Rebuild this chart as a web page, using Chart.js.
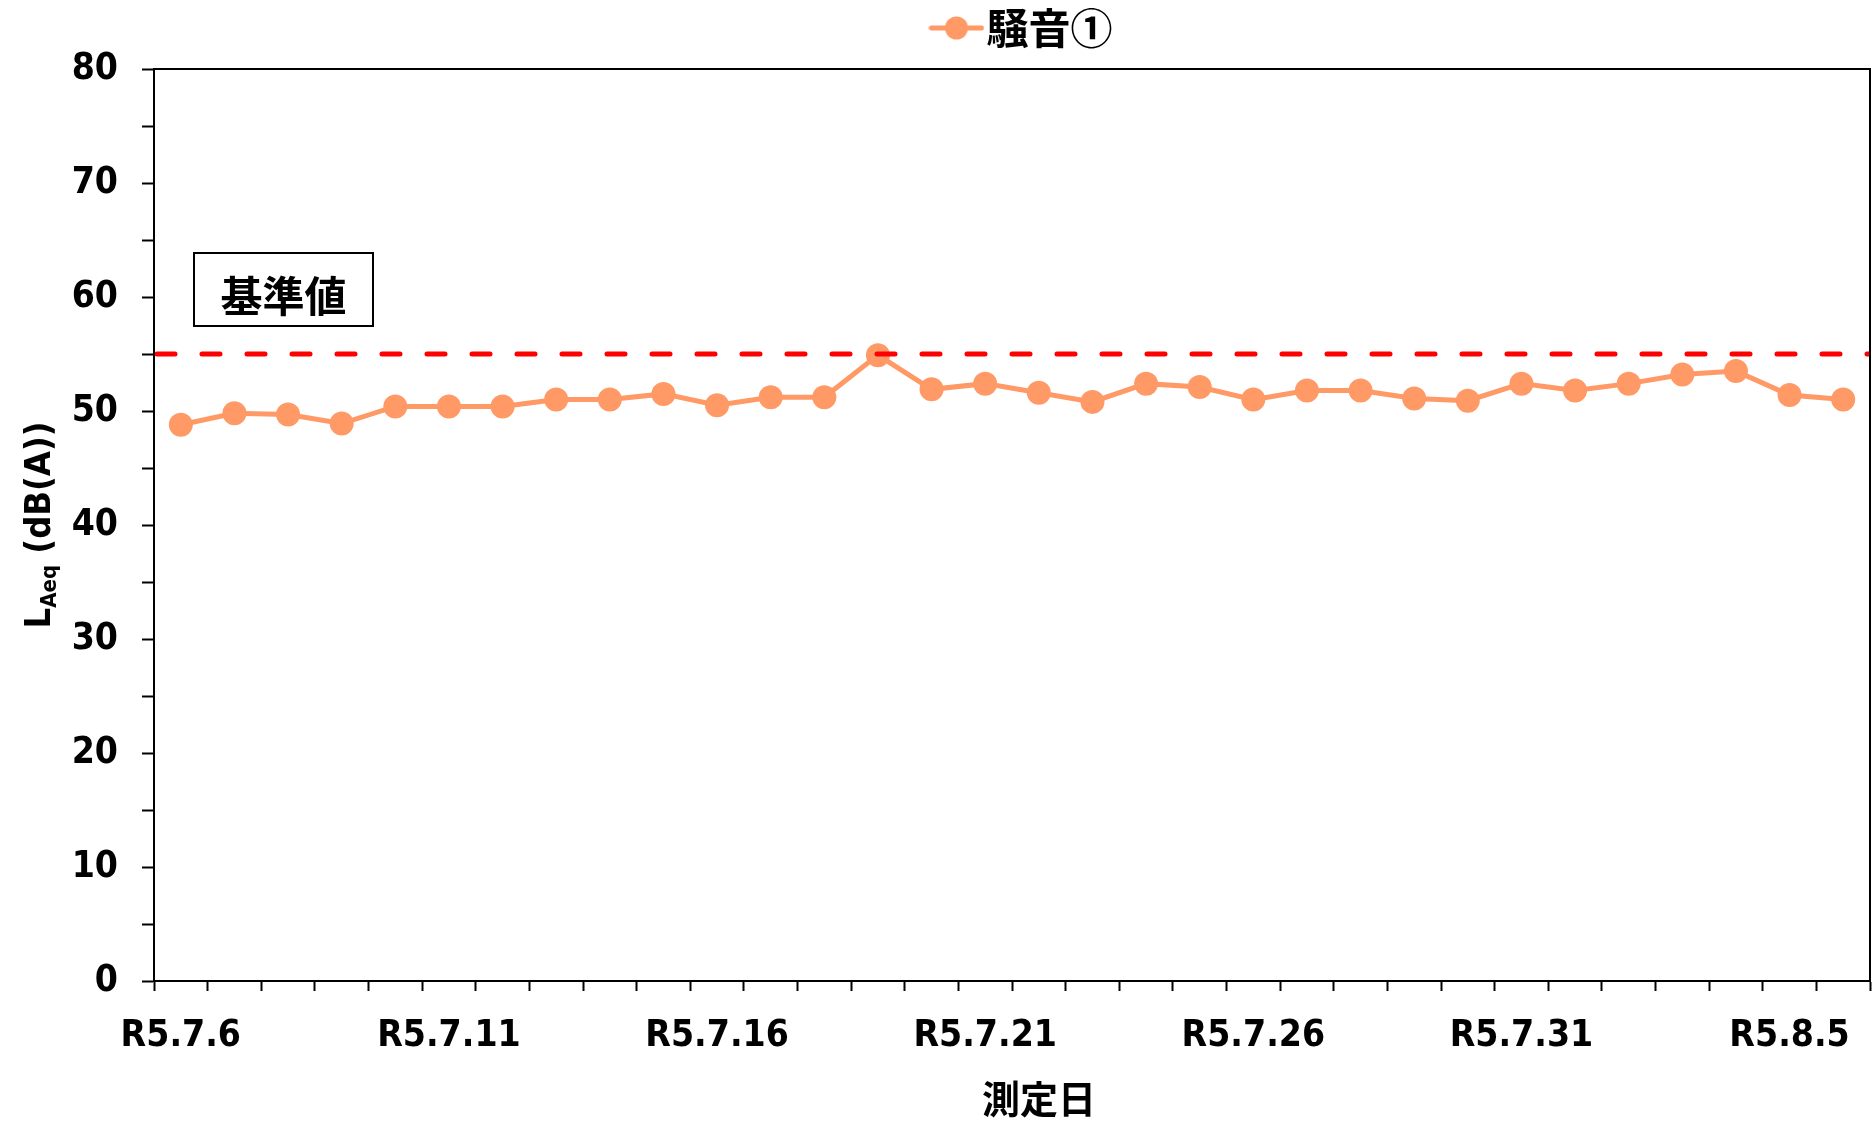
<!DOCTYPE html>
<html>
<head>
<meta charset="utf-8">
<script src="https://cdn.jsdelivr.net/npm/chart.js@4"></script>
<style>
  html, body { margin: 0; padding: 0; background: #fff; }
  #wrap { width: 1873px; height: 1122px; }
</style>
</head>
<body>
<div id="wrap"><canvas id="myChart" width="1873" height="1122"></canvas></div>
<script>
// measurement days (R5 = Reiwa 5)
const dates = [
  'R5.7.6', 'R5.7.7', 'R5.7.8', 'R5.7.9', 'R5.7.10', 'R5.7.11', 'R5.7.12', 'R5.7.13',
  'R5.7.14', 'R5.7.15', 'R5.7.16', 'R5.7.17', 'R5.7.18', 'R5.7.19', 'R5.7.20', 'R5.7.21',
  'R5.7.22', 'R5.7.23', 'R5.7.24', 'R5.7.25', 'R5.7.26', 'R5.7.27', 'R5.7.28', 'R5.7.29',
  'R5.7.30', 'R5.7.31', 'R5.8.1', 'R5.8.2', 'R5.8.3', 'R5.8.4', 'R5.8.5', 'R5.8.6'
];
const noise1 = [
  48.8, 49.8, 49.7, 48.9, 50.4, 50.4, 50.4, 51.0,
  51.0, 51.5, 50.5, 51.2, 51.2, 54.9, 51.9, 52.4,
  51.6, 50.8, 52.4, 52.1, 51.0, 51.8, 51.8, 51.1,
  50.9, 52.4, 51.8, 52.4, 53.2, 53.5, 51.4, 51.0
];
const shownDates = ['R5.7.6', 'R5.7.11', 'R5.7.16', 'R5.7.21', 'R5.7.26', 'R5.7.31', 'R5.8.5'];
const yLabels = [0, 10, 20, 30, 40, 50, 60, 70, 80];
const seriesName = '騒音①';
const limitValue = 55;
const limitText = '基準値';
const xTitle = '測定日';

const numFont = '"DejaVu Sans Condensed", "DejaVu Sans", sans-serif';
const jpFont = '"Noto Sans CJK JP", sans-serif';
const orange = '#ff9966';

// legend marker: line with a dot on it
const legendIcon = document.createElement('canvas');
legendIcon.width = 56;
legendIcon.height = 26;
let ic = legendIcon.getContext('2d');
ic.strokeStyle = orange;
ic.lineWidth = 5;
ic.lineCap = 'round';
ic.beginPath();
ic.moveTo(3, 13);
ic.lineTo(53, 13);
ic.stroke();
ic.fillStyle = orange;
ic.beginPath();
ic.arc(28, 13, 11.5, 0, Math.PI * 2);
ic.fill();

const extras = {
  id: 'extras',
  beforeLayout(chart) {
    // a bit more room under the legend, and nudge it like the original
    let lg = chart.legend;
    if (lg && !lg._patched) {
      let fit = lg.fit;
      lg.fit = function () {
        fit.call(this);
        this.height += 8;
      };
      let draw = lg.draw;
      lg.draw = function () {
        let c = this.ctx;
        c.save();
        c.translate(18, -2);
        draw.call(this);
        c.restore();
      };
      lg._patched = true;
    }
  },
  afterDatasetsDraw(chart) {
    let ctx = chart.ctx;
    let a = chart.chartArea;
    let yy = chart.scales.y.getPixelForValue(limitValue);
    ctx.save();
    ctx.beginPath();
    ctx.rect(a.left, a.top, a.right - a.left, a.bottom - a.top);
    ctx.clip();
    ctx.strokeStyle = '#ff0000';
    ctx.lineWidth = 5;
    ctx.lineCap = 'round';
    ctx.setLineDash([18, 27]);
    ctx.beginPath();
    ctx.moveTo(a.left + 3, yy);
    ctx.lineTo(a.right, yy);
    ctx.stroke();
    ctx.restore();
  },
  afterDraw(chart) {
    let ctx = chart.ctx;
    let a = chart.chartArea;
    ctx.save();
    // frame around plot
    ctx.strokeStyle = '#000';
    ctx.lineWidth = 2;
    ctx.strokeRect(a.left, a.top, a.right - a.left, a.bottom - a.top);

    // 基準値 box
    let bx = a.left + 40, by = a.top + 184, bw = 179, bh = 73;
    ctx.strokeRect(bx, by, bw, bh);
    ctx.fillStyle = '#000';
    ctx.font = 'bold 42px ' + jpFont;
    ctx.textAlign = 'center';
    ctx.textBaseline = 'middle';
    ctx.fillText(limitText, bx + bw / 2, by + bh / 2 + 7);

    // x title
    ctx.font = 'bold 38px ' + jpFont;
    ctx.fillText(xTitle, (a.left + a.right) / 2 + 27, a.bottom + 118);

    // y title: L_Aeq (dB(A))
    let cx = 41, cy = (a.top + a.bottom) / 2;
    ctx.translate(cx, cy);
    ctx.rotate(-Math.PI / 2);
    ctx.textAlign = 'left';
    let big = 'bold 36px ' + numFont;
    let small = 'bold 22px ' + numFont;
    ctx.font = big;
    let wL = ctx.measureText('L').width;
    let wRest = ctx.measureText(' (dB(A))').width;
    ctx.font = small;
    let wSub = ctx.measureText('Aeq').width;
    let x0 = -(wL + wSub + wRest) / 2;
    ctx.font = big;
    ctx.fillText('L', x0, 0);
    ctx.font = small;
    ctx.fillText('Aeq', x0 + wL, 9);
    ctx.font = big;
    ctx.fillText(' (dB(A))', x0 + wL + wSub, 0);
    ctx.restore();
  }
};

let ctx = document.getElementById('myChart').getContext('2d');
let chartOne = new Chart(ctx, {
  type: 'line',
  data: {
    labels: dates,
    datasets: [{
      label: seriesName,
      data: noise1,
      borderColor: orange,
      backgroundColor: orange,
      borderWidth: 5,
      pointRadius: 12,
      pointHoverRadius: 12,
      pointBackgroundColor: orange,
      pointBorderWidth: 0,
      tension: 0,
      clip: false
    }]
  },
  options: {
    responsive: false,
    animation: false,
    layout: { autoPadding: false, padding: { top: 1, right: 3, bottom: 0, left: 0 } },
    plugins: {
      tooltip: { enabled: false },
      legend: {
        position: 'top',
        fullSize: false,
        labels: {
          usePointStyle: true,
          pointStyleWidth: 18,
          color: '#000',
          padding: 8,
          font: { family: jpFont, size: 42, weight: 'bold' },
          generateLabels(chart) {
            let items = Chart.defaults.plugins.legend.labels.generateLabels(chart);
            items.forEach(it => { it.pointStyle = legendIcon; });
            return items;
          }
        }
      }
    },
    scales: {
      x: {
        offset: true,
        grid: { offset: true, drawOnChartArea: false, tickLength: 10, tickWidth: 2, tickColor: '#000' },
        border: { color: '#000', width: 2 },
        ticks: {
          autoSkip: false,
          maxRotation: 0,
          padding: 23,
          color: '#000',
          font: { family: numFont, size: 37, weight: 'bold' },
          callback: function (v) {
            let l = this.getLabelForValue(v);
            return shownDates.includes(l) ? l : '';
          }
        },
        afterFit(s) { s.height = 141; }
      },
      y: {
        min: 0,
        max: 80,
        grid: { drawOnChartArea: false, tickLength: 12, tickWidth: 2, tickColor: '#000' },
        border: { color: '#000', width: 2 },
        ticks: {
          stepSize: 5,
          padding: 24,
          color: '#000',
          font: { family: numFont, size: 37, weight: 'bold' },
          callback: v => yLabels.includes(v) ? v : ''
        },
        afterFit(s) { s.width = 154; }
      }
    }
  },
  plugins: [extras]
});
</script>
</body>
</html>
